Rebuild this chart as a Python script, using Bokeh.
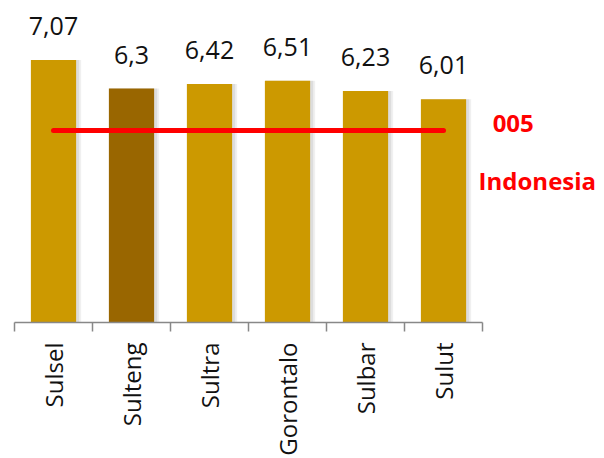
import math
from bokeh.plotting import figure
from bokeh.models import (ColumnDataSource, Range1d, LinearAxis, FixedTicker, Label)
from bokeh.embed import file_html
from bokeh.resources import INLINE
from bokeh.core.properties import value

# ---- data ----
provinces = ["Sulsel", "Sulteng", "Sultra", "Gorontalo", "Sulbar", "Sulut"]
growth = [7.07, 6.30, 6.42, 6.51, 6.23, 6.01]
growth_labels = ["7,07", "6,3", "6,42", "6,51", "6,23", "6,01"]
national_value = 5.17
national_label_top = "005"
national_label_bottom = "Indonesia"

GOLD = "#CC9900"
BROWN = "#996600"
colors = [BROWN if p == "Sulteng" else GOLD for p in provinces]

n = len(provinces)
centers = [i + 0.5 for i in range(n)]
src = ColumnDataSource(dict(x=centers, y=growth, lab=growth_labels, color=colors,
                            xs1=[c + 0.035 for c in centers], xs2=[c + 0.025 for c in centers]))

p = figure(width=604, height=458, x_range=Range1d(0, 7.564), y_range=Range1d(0, 8.67),
           output_backend="svg", toolbar_location=None,
           x_axis_location=None, y_axis_location=None,
           min_border_left=14, min_border_right=0, min_border_top=0, min_border_bottom=0)
p.outline_line_color = None
p.xgrid.visible = False
p.ygrid.visible = False
p.background_fill_color = "white"
p.border_fill_color = "white"

# soft shadows
p.vbar(x="xs1", top="y", width=0.64, source=src,
       fill_color="#000000", fill_alpha=0.06, line_color=None)
p.vbar(x="xs2", top="y", width=0.61, source=src,
       fill_color="#000000", fill_alpha=0.08, line_color=None)
# bars
p.vbar(x="x", top="y", width=0.58, source=src, fill_color="color", line_color=None)

# value labels
p.text(x="x", y="y", text="lab", source=src, text_align="center", text_baseline="alphabetic",
       y_offset=-34, text_font=value("Open Sans"), text_font_size="25px", text_color="#111111")

# national line
p.line(x=[centers[0], centers[-1]], y=[national_value, national_value],
       line_color="#FF0000", line_width=5, line_cap="round")

p.add_layout(Label(x=6.13, y=national_value, text=national_label_top,
                   text_font="Open Sans", text_font_size="24px", text_font_style="bold",
                   text_color="#FF0000", text_baseline="middle", y_offset=7))
p.add_layout(Label(x=5.95, y=national_value, text=national_label_bottom,
                   text_font="Open Sans", text_font_size="24px", text_font_style="bold",
                   text_color="#FF0000", text_baseline="middle", y_offset=-50))

# category axis: labels at centres, tick marks at category boundaries
x_axis = LinearAxis(ticker=FixedTicker(ticks=centers, minor_ticks=list(range(n + 1))),
                    bounds=(0, n),
                    major_label_overrides={c: name for c, name in zip(centers, provinces)},
                    axis_line_color="#888888", axis_line_width=1.5,
                    major_tick_line_color=None, major_tick_out=0, major_tick_in=0,
                    minor_tick_line_color="#888888", minor_tick_line_width=1.5,
                    minor_tick_out=9, minor_tick_in=0,
                    major_label_orientation=math.pi / 2,
                    major_label_text_font="Open Sans", major_label_text_font_size="24px",
                    major_label_text_color="#111111", major_label_standoff=11,
                    axis_label_standoff=0, axis_label_text_font_size="0px")
p.add_layout(x_axis, "below")

open("out.html", "w").write(file_html(p, INLINE))
